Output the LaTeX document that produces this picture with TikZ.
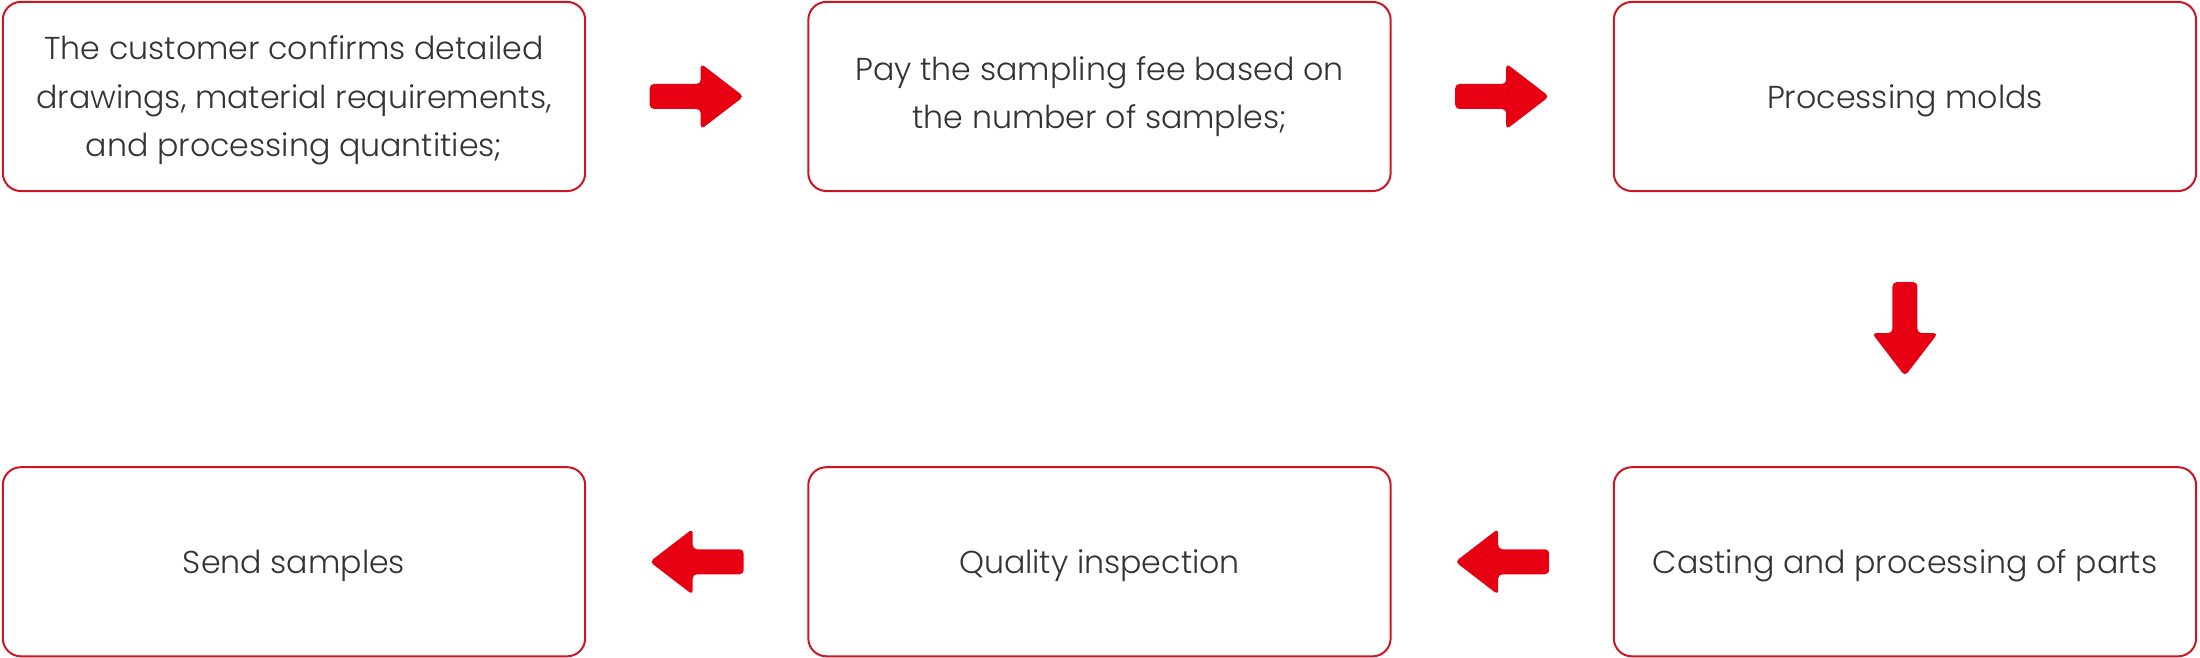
\documentclass[tikz,border=0pt]{standalone}
\usepackage{fontspec}
\setmainfont{Poppins}[UprightFont=* Light]
\usetikzlibrary{positioning}
\usetikzlibrary{calc}

\definecolor{boxred}{RGB}{206,22,34}
\definecolor{arrowred}{RGB}{230,0,18}
\definecolor{textgray}{RGB}{51,51,51}

\tikzset{
  stepbox/.style={draw=boxred, line width=0.02cm, rounded corners=0.18cm,
    minimum width=5.82cm, minimum height=1.89cm, align=center,
    text=textgray, text depth=0pt, font=\fontsize{9}{13.8}\selectfont},
  flowarrow/.pic={
    \fill[arrowred, rounded corners=1.2pt]
      (-47,-12.5) -- (4,-12.5) -- (4,-33) -- (47,0) -- (4,33)
      -- (4,12.5) -- (-47,12.5) -- cycle;
  }
}

\begin{document}
\begin{tikzpicture}[x=0.01cm, y=0.01cm, node distance=2.21cm and 2.21cm]
  \useasboundingbox (0,0) rectangle (2200,658);

  % top row
  \node[stepbox] (confirm) at (294,561.5)
    {The customer confirms detailed\\drawings, material requirements,\\and processing quantities;};
  \node[stepbox, text depth=, right=of confirm] (fee)
    {Pay the sampling fee based on\\the number of samples;};
  \node[stepbox, right=of fee] (molds) {Processing molds};

  % bottom row
  \node[stepbox, below=2.74cm of molds] (casting) {Casting and processing of parts};
  \node[stepbox, left=of casting] (inspect) {Quality inspection};
  \node[stepbox, left=of inspect] (send) {Send samples};

  % arrows
  \pic at ($(confirm.east)!0.5!(fee.west)$) {flowarrow};
  \pic at ($(fee.east)!0.5!(molds.west)$) {flowarrow};
  \pic[rotate=-90] at ($(molds.south)!0.5!(casting.north)$) {flowarrow};
  \pic[rotate=180] at ($(casting.west)!0.5!(inspect.east)$) {flowarrow};
  \pic[rotate=180] at ($(inspect.west)!0.5!(send.east)$) {flowarrow};
\end{tikzpicture}
\end{document}
